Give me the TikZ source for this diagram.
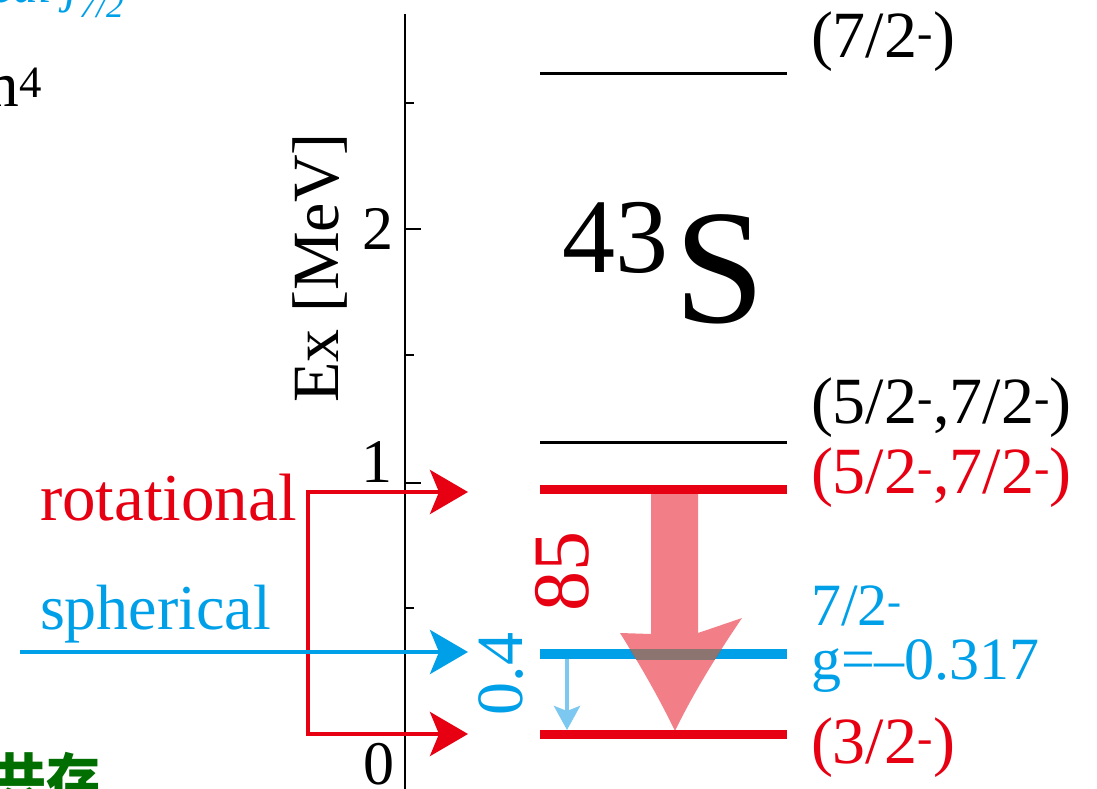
\documentclass[tikz,border=0pt]{standalone}
\usepackage{fontspec}
\setmainfont{Liberation Serif}
\newfontfamily\cjk{Noto Sans CJK SC}
\usetikzlibrary{arrows.meta}
\definecolor{rred}{RGB}{230,0,18}
\definecolor{bblue}{RGB}{0,160,233}
\definecolor{lblue}{RGB}{125,200,240}
\definecolor{ggreen}{RGB}{0,110,0}
\definecolor{overlap}{RGB}{140,116,112}
\newcommand{\fs}[1]{\fontsize{#1}{#1}\selectfont}
\newcommand{\mn}{\textsuperscript{-}}
\newcommand{\bigarrowpath}{(651,494) -- (651,634) -- (620,633)
  .. controls (642,668) and (660,700) .. (675,731)
  .. controls (690,700) and (712,662) .. (742,618)
  -- (698,633) -- (698,494) -- cycle}
\begin{document}
\begin{tikzpicture}[x=1pt,y=-1pt,
  txt/.style={inner sep=0pt, outer sep=0pt},
  lvlthin/.style={line width=3pt, black},
  lvlred/.style={line width=9pt, rred},
  lvlblue/.style={line width=10pt, bblue},
  rarrow/.style={line width=4.5pt, rred, line join=miter},
  barrow/.style={line width=4.5pt, bblue},
  ticklbl/.style={txt, font=\fs{62}}]
\useasboundingbox (0,0) rectangle (1097,789);
\clip (0,0) rectangle (1097,789);
\fill[white] (0,0) rectangle (1097,789);

% axis
\coordinate (axtop) at (405,14);
\coordinate (axbot) at (405,789);
\draw[line width=2pt] (axtop) -- (axbot);
\foreach \y/\l in {103/9,229/16,355/9,483/16,608/9}
  \draw[line width=1.8pt] (405,\y) -- ++(\l,0);
\node[ticklbl, anchor=east] (t2) at (393,229) {2};
\node[ticklbl, anchor=base east] (t1) at (392,482) {1};
\node[ticklbl, anchor=base east] (t0) at (394,784) {0};
\node[txt, rotate=90, font=\fs{66}] (ylab) at (320,268) {Ex [MeV]};

% levels
\coordinate (a1) at (540,74);   \coordinate (b1) at (787,74);
\coordinate (a2) at (540,442);  \coordinate (b2) at (787,442);
\coordinate (a3) at (540,489.5);\coordinate (b3) at (787,489.5);
\coordinate (a4) at (540,654);  \coordinate (b4) at (787,654);
\coordinate (a5) at (540,734.5);\coordinate (b5) at (787,734.5);
\draw[lvlthin] (a1) -- (b1);
\draw[lvlthin] (a2) -- (b2);
\draw[lvlred]  (a3) -- (b3);
\draw[lvlblue] (a4) -- (b4);
\draw[lvlred]  (a5) -- (b5);

% level labels
\node[txt, anchor=base west, font=\fs{66}] (l1) at (811,58) {(7/2\mn)};
\node[txt, anchor=base west, font=\fs{66}] (l2) at (811,423) {(5/2\mn,7/2\mn)};
\node[txt, anchor=base west, font=\fs{66}, text=rred] (l3) at (811,493) {(5/2\mn,7/2\mn)};
\node[txt, anchor=base west, font=\fs{60}, text=bblue] (l4) at (811,625) {7/2\mn};
\node[txt, anchor=base west, font=\fs{60}, text=bblue] (l4g) at (811,679) {g=--0.317};
\node[txt, anchor=base west, font=\fs{66}, text=rred] (l5) at (811,763) {(3/2\mn)};

% nucleus
\node[txt, anchor=base west, font=\fs{106}] (mass) at (562,272) {43};
\node[txt, anchor=base west, font=\fs{163}] (elem) at (674,322) {S};

% transitions
\coordinate (s0) at (567,659);
\coordinate (s1) at (567,730);
\draw[line width=4.5pt, lblue, -{Stealth[length=24pt, width=26pt, inset=5pt]}] (s0) -- (s1);
\fill[rred, opacity=.5] \bigarrowpath;
\begin{scope}
  \clip (540,649) rectangle (787,659);
  \fill[overlap] \bigarrowpath;
\end{scope}
\node[txt, rotate=90, font=\fs{80}, text=rred] (b85) at (562,571) {85};
\node[txt, rotate=90, font=\fs{66}, text=bblue] (b04) at (501,674) {0.4};

% left arrows
\coordinate (rtip1) at (468,492);
\coordinate (rtop) at (308,492);
\coordinate (rbot) at (308,734);
\coordinate (rtip0) at (468,734);
\draw[rarrow, {Stealth[length=38pt, width=44pt, inset=9pt]}-{Stealth[length=38pt, width=44pt, inset=9pt]}] (rtip1) -- (rtop) -- (rbot) -- (rtip0);
\coordinate (bstart) at (20,652);
\coordinate (btip) at (468,652);
\draw[barrow, -{Stealth[length=38pt, width=44pt, inset=9pt]}] (bstart) -- (btip);
\node[txt, anchor=base west, font=\fs{67}, text=rred] (rot) at (40,520) {rotational};
\node[txt, anchor=base west, font=\fs{64}, text=bblue] (sph) at (40,629) {spherical};

% slide fragments
\node[txt, anchor=base east, font=\fs{50}\itshape, text=bblue] (frag1) at (124,3) {ical j\textsubscript{7/2}};
\node[txt, anchor=base east, font=\fs{64}] (frag2) at (42,107) {m\textsuperscript{4}};
\node[txt, anchor=north west, font=\cjk\bfseries\fs{54}, text=ggreen] (frag3) at (-8,752) {共存};
\end{tikzpicture}
\end{document}
